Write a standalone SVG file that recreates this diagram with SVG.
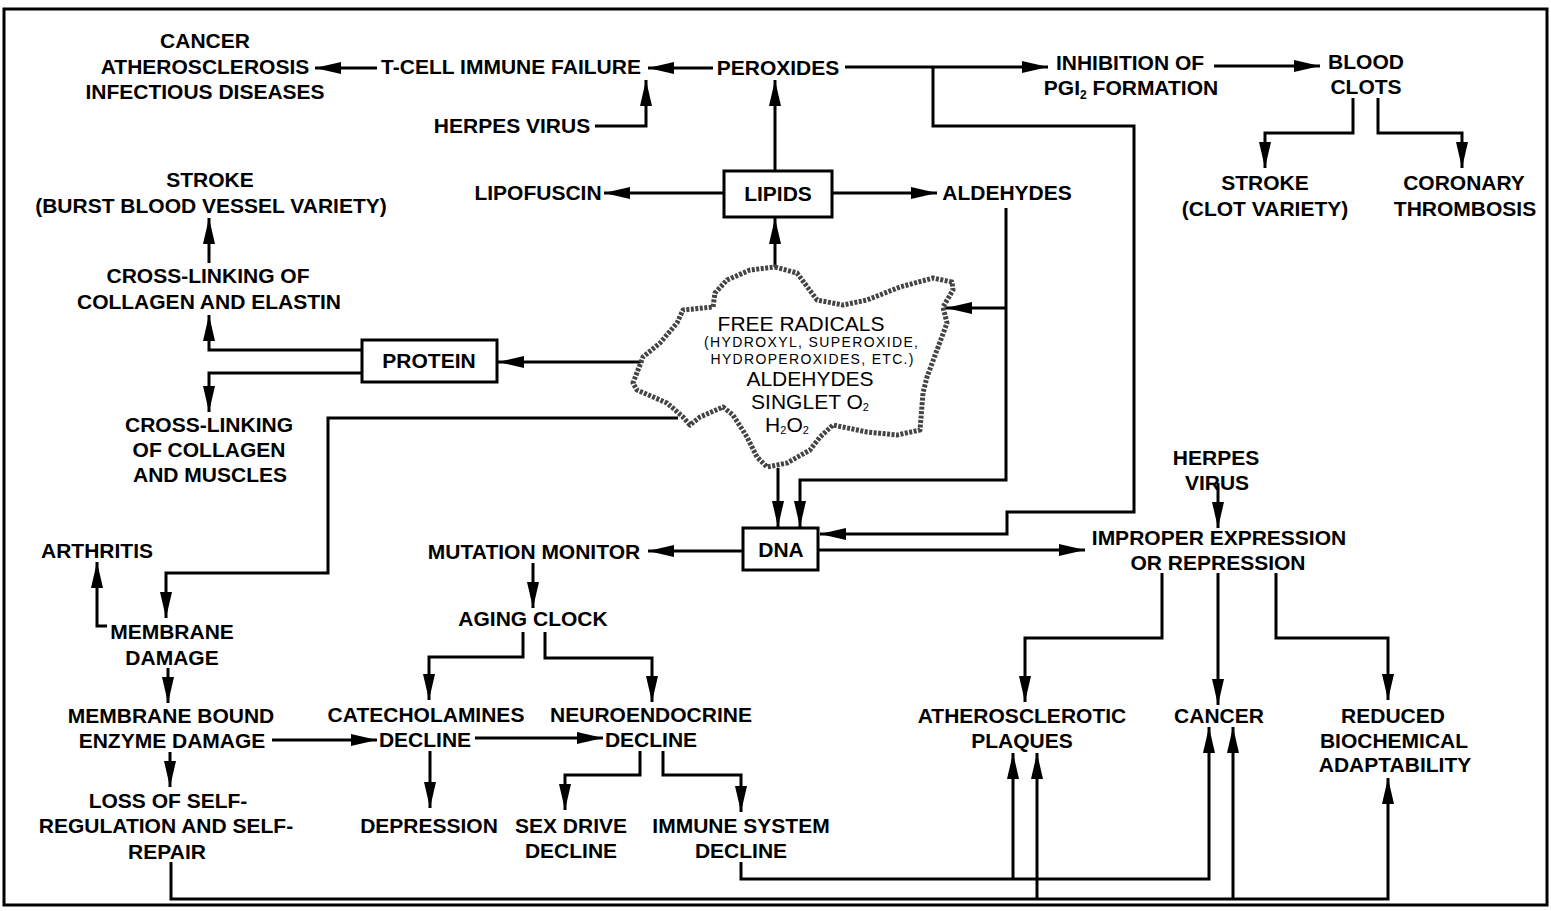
<svg xmlns="http://www.w3.org/2000/svg" width="1551" height="911" viewBox="0 0 1551 911">
<defs>
<style>
.t{font-family:"Liberation Sans",Arial,sans-serif;font-weight:bold;font-size:21px;text-anchor:middle;fill:#000}
.c{font-family:"Liberation Sans",Arial,sans-serif;font-size:21px;text-anchor:middle;fill:#000}
.s{font-family:"Liberation Sans",Arial,sans-serif;font-size:14px;text-anchor:middle;fill:#000}
.box{fill:#fff;stroke:#000;stroke-width:3}
.ln{fill:none;stroke:#000;stroke-width:3}
.ar{fill:none;stroke:#000;stroke-width:3;marker-end:url(#ah)}
.cloud{fill:#fff;stroke:#444;stroke-width:5;stroke-dasharray:3 1.5;stroke-linejoin:round}
</style>
<marker id="ah" markerWidth="26" markerHeight="12" refX="26" refY="6" orient="auto" markerUnits="userSpaceOnUse">
<path d="M0,0 L26,6 L0,12 Z" fill="#000"/>
</marker>
</defs>
<rect x="0" y="0" width="1551" height="911" fill="#fff"/>
<rect x="4" y="9" width="1543" height="896" fill="none" stroke="#000" stroke-width="3"/>

<g id="connectors">
<path class="ar" d="M377,68 H315"/>
<path class="ar" d="M713,68 H648"/>
<path class="ar" d="M595,126 H646 V80"/>
<path class="ar" d="M775,171 V80"/>
<path class="ar" d="M845,67 H1048"/>
<path class="ar" d="M1214,66 H1320"/>
<path class="ar" d="M1353,98 V133 H1265 V168"/>
<path class="ar" d="M1378,98 V133 H1462 V168"/>
<path class="ar" d="M933,67 V126 H1134 V512 H1007 V534 H820"/>
<path class="ar" d="M724,193 H604"/>
<path class="ar" d="M832,193 H937"/>
<path class="ar" d="M775,267 V218"/>
<path class="ar" d="M1006,208 V480 H800 V527"/>
<path class="ar" d="M1006,308 H946"/>
<path class="ar" d="M778,468 V527"/>
<path class="ar" d="M642,362 H498"/>
<path class="ar" d="M362,350 H209 V315"/>
<path class="ar" d="M362,373 H209 V412"/>
<path class="ar" d="M209,263 V218"/>
<path class="ar" d="M678,418 H328 V573 H166 V618"/>
<path class="ar" d="M107,626 H97 V562"/>
<path class="ar" d="M168,668 V703"/>
<path class="ar" d="M170,752 V787"/>
<path class="ar" d="M272,740 H377"/>
<path class="ar" d="M743,551 H648"/>
<path class="ar" d="M818,550 H1085"/>
<path class="ar" d="M533,563 V608"/>
<path class="ar" d="M523,632 V657 H429 V700"/>
<path class="ar" d="M545,632 V658 H652 V702"/>
<path class="ar" d="M475,738 H603"/>
<path class="ar" d="M430,751 V808"/>
<path class="ar" d="M640,751 V775 H565 V810"/>
<path class="ar" d="M663,751 V775 H741 V812"/>
<path class="ar" d="M741,862 V879 H1209 V727"/>
<path class="ar" d="M1013,879 V753"/>
<path class="ar" d="M171,862 V899 H1388 V778"/>
<path class="ar" d="M1037,899 V753"/>
<path class="ar" d="M1233,899 V727"/>
<path class="ar" d="M1218,483 V528"/>
<path class="ar" d="M1162,573 V638 H1025 V702"/>
<path class="ar" d="M1218,573 V705"/>
<path class="ar" d="M1276,573 V638 H1388 V700"/>
</g>

<g id="n-cancer-athero-infectious">
<text class="t" x="205" y="48">CANCER</text>
<text class="t" x="205" y="74">ATHEROSCLEROSIS</text>
<text class="t" x="205" y="99">INFECTIOUS DISEASES</text>
</g>
<g id="n-tcell"><text class="t" x="511" y="74">T-CELL IMMUNE FAILURE</text></g>
<g id="n-herpes1"><text class="t" x="512" y="133">HERPES VIRUS</text></g>
<g id="n-peroxides"><text class="t" x="778" y="75">PEROXIDES</text></g>
<g id="n-inhibition">
<text class="t" x="1130" y="70">INHIBITION OF</text>
<text class="t" x="1131" y="95">PGI<tspan font-size="12" dy="4">2</tspan><tspan dy="-4"> FORMATION</tspan></text>
</g>
<g id="n-bloodclots">
<text class="t" x="1366" y="69">BLOOD</text>
<text class="t" x="1366" y="94">CLOTS</text>
</g>
<g id="n-stroke-clot">
<text class="t" x="1265" y="190">STROKE</text>
<text class="t" x="1265" y="216">(CLOT VARIETY)</text>
</g>
<g id="n-coronary">
<text class="t" x="1464" y="190">CORONARY</text>
<text class="t" x="1465" y="216">THROMBOSIS</text>
</g>
<g id="n-stroke-burst">
<text class="t" x="210" y="187">STROKE</text>
<text class="t" x="211" y="213">(BURST BLOOD VESSEL VARIETY)</text>
</g>
<g id="n-lipofuscin"><text class="t" x="538" y="200">LIPOFUSCIN</text></g>
<g id="n-lipids">
<rect class="box" x="724" y="171" width="108" height="46"/>
<text class="t" x="778" y="201">LIPIDS</text>
</g>
<g id="n-aldehydes"><text class="t" x="1007" y="200">ALDEHYDES</text></g>
<g id="n-crosslink-elastin">
<text class="t" x="208" y="283">CROSS-LINKING OF</text>
<text class="t" x="209" y="309">COLLAGEN AND ELASTIN</text>
</g>
<g id="n-protein">
<rect class="box" x="362" y="340" width="135" height="42"/>
<text class="t" x="429" y="368">PROTEIN</text>
</g>
<g id="n-crosslink-muscles">
<text class="t" x="209" y="432">CROSS-LINKING</text>
<text class="t" x="209" y="457">OF COLLAGEN</text>
<text class="t" x="210" y="482">AND MUSCLES</text>
</g>
<g id="n-freeradicals">
<path class="cloud" d="M775,267 L797,273 L817,300 L843,305 L867,300 L900,287 L933,278 L952,282 L953,290 L943,307 L947,323 L937,350 L927,377 L923,393 L920,430 L897,435 L867,432 L833,425 L820,437 L810,450 L787,463 L767,467 L757,457 L747,437 L733,415 L723,407 L700,417 L690,425 L683,417 L667,403 L637,390 L633,383 L643,357 L660,343 L677,323 L683,310 L713,307 L715,293 L727,280 L750,270 Z"/>
<text class="c" x="801" y="331">FREE RADICALS</text>
<text class="s" x="811" y="347" textLength="214" lengthAdjust="spacing">(HYDROXYL, SUPEROXIDE,</text>
<text class="s" x="812" y="364" textLength="203" lengthAdjust="spacing">HYDROPEROXIDES, ETC.)</text>
<text class="c" x="810" y="386" font-size="20">ALDEHYDES</text>
<text class="c" x="810" y="409" font-size="19">SINGLET O<tspan font-size="11" dy="2">2</tspan></text>
<text class="c" x="787" y="432" font-size="19">H<tspan font-size="11" dy="2">2</tspan><tspan dy="-2">O</tspan><tspan font-size="11" dy="2">2</tspan></text>
</g>
<g id="n-herpes2">
<text class="t" x="1216" y="465">HERPES</text>
<text class="t" x="1217" y="490">VIRUS</text>
</g>
<g id="n-dna">
<rect class="box" x="743" y="528" width="75" height="42"/>
<text class="t" x="781" y="557">DNA</text>
</g>
<g id="n-mutation"><text class="t" x="534" y="559">MUTATION MONITOR</text></g>
<g id="n-improper">
<text class="t" x="1219" y="545">IMPROPER EXPRESSION</text>
<text class="t" x="1218" y="570">OR REPRESSION</text>
</g>
<g id="n-arthritis"><text class="t" x="97" y="558">ARTHRITIS</text></g>
<g id="n-aging"><text class="t" x="533" y="626">AGING CLOCK</text></g>
<g id="n-membrane">
<text class="t" x="172" y="639">MEMBRANE</text>
<text class="t" x="172" y="665">DAMAGE</text>
</g>
<g id="n-enzyme">
<text class="t" x="171" y="723">MEMBRANE BOUND</text>
<text class="t" x="172" y="748">ENZYME DAMAGE</text>
</g>
<g id="n-catecholamines">
<text class="t" x="426" y="722">CATECHOLAMINES</text>
<text class="t" x="425" y="747">DECLINE</text>
</g>
<g id="n-neuroendocrine">
<text class="t" x="651" y="722">NEUROENDOCRINE</text>
<text class="t" x="651" y="747">DECLINE</text>
</g>
<g id="n-athero-plaques">
<text class="t" x="1022" y="723">ATHEROSCLEROTIC</text>
<text class="t" x="1022" y="748">PLAQUES</text>
</g>
<g id="n-cancer2"><text class="t" x="1219" y="723">CANCER</text></g>
<g id="n-reduced">
<text class="t" x="1393" y="723">REDUCED</text>
<text class="t" x="1394" y="748">BIOCHEMICAL</text>
<text class="t" x="1395" y="772">ADAPTABILITY</text>
</g>
<g id="n-loss">
<text class="t" x="168" y="808">LOSS OF SELF-</text>
<text class="t" x="166" y="833">REGULATION AND SELF-</text>
<text class="t" x="167" y="859">REPAIR</text>
</g>
<g id="n-depression"><text class="t" x="429" y="833">DEPRESSION</text></g>
<g id="n-sexdrive">
<text class="t" x="571" y="833">SEX DRIVE</text>
<text class="t" x="571" y="858">DECLINE</text>
</g>
<g id="n-immune">
<text class="t" x="741" y="833">IMMUNE SYSTEM</text>
<text class="t" x="741" y="858">DECLINE</text>
</g>
</svg>
